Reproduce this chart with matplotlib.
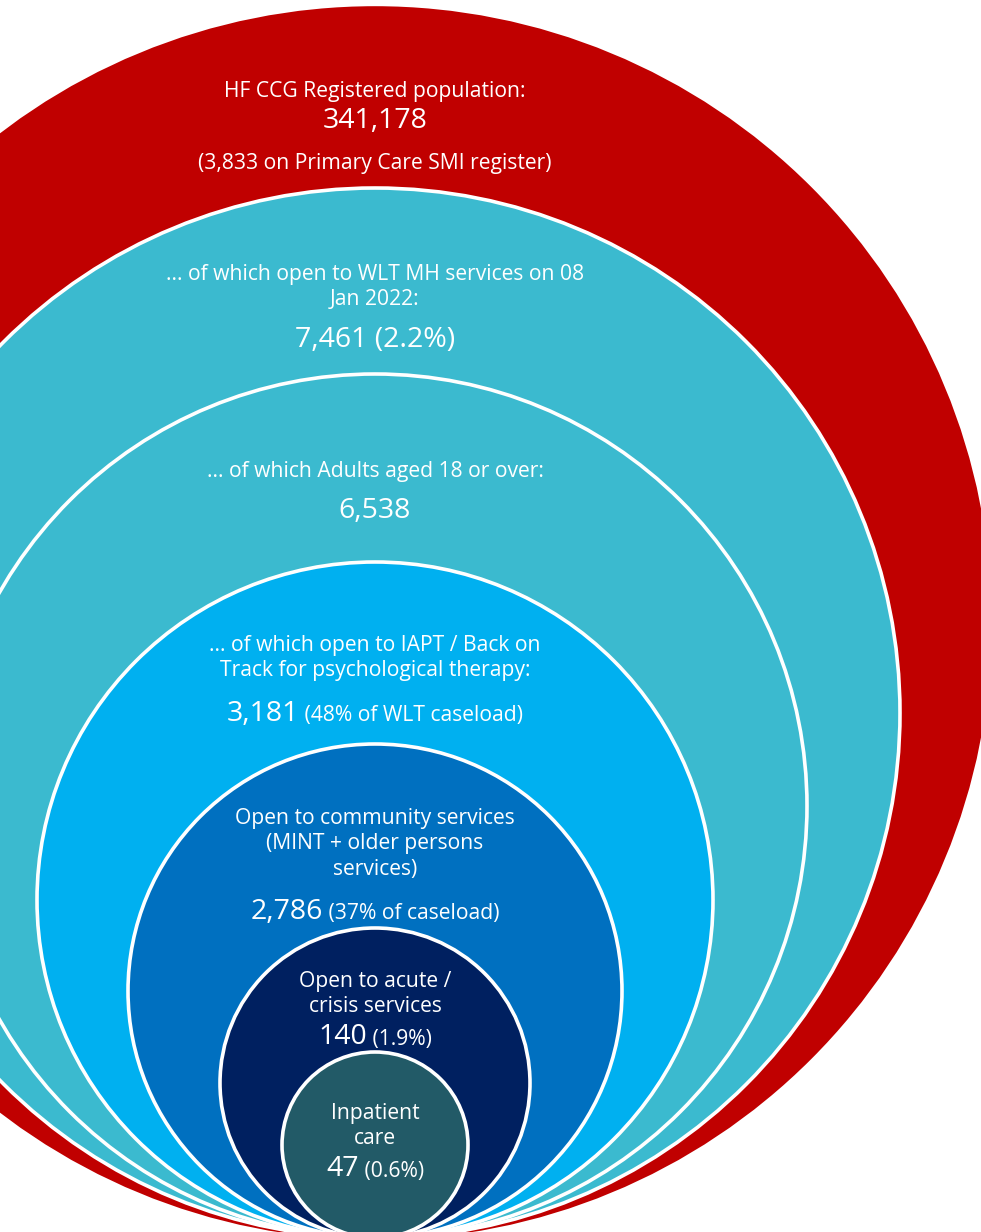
import matplotlib
matplotlib.use("Agg")
import matplotlib.pyplot as plt
from matplotlib.patches import Circle

plt.rcParams['font.family'] = ['Open Sans', 'DejaVu Sans']

# data, outer ring to inner
labels = [
    "HF CCG Registered population:",
    "... of which open to WLT MH services on 08\nJan 2022:",
    "... of which Adults aged 18 or over:",
    "... of which open to IAPT / Back on\nTrack for psychological therapy:",
    "Open to community services\n(MINT + older persons\nservices)",
    "Open to acute /\ncrisis services",
    "Inpatient\ncare",
]
counts = ["341,178", "7,461 (2.2%)", "6,538", "3,181", "2,786", "140", "47"]
notes = ["", "", "", "(48% of WLT caseload)", "(37% of caseload)", "(1.9%)", "(0.6%)"]
footer = "(3,833 on Primary Care SMI register)"
colors = ["#C00000", "#3BBACF", "#3BBACF", "#00B0F0", "#0070C0", "#002060", "#225A67"]

# layout (pixels): all circles touch at the bottom point
cx, base = 375, 1238
radii = [615, 525, 432, 338, 247, 155, 93]
label_y = [91, 287, 471, 658, 844, 994, 1126]
count_y = [121, 340, 511, 714, 912, 1037, 1169]

W, H = 981, 1232
fig = plt.figure(figsize=(W / 100, H / 100), dpi=100)
ax = fig.add_axes([0, 0, 1, 1])
ax.set_xlim(0, W)
ax.set_ylim(H, 0)
ax.axis('off')

for i, (r, c) in enumerate(zip(radii, colors)):
    ec = c if i == 0 else "white"
    ax.add_patch(Circle((cx, base - r), r, facecolor=c, edgecolor=ec, lw=2.6, zorder=i))

fig.canvas.draw()
renderer = fig.canvas.get_renderer()

small, big = 15.2, 20.5
for i in range(len(labels)):
    ax.text(cx, label_y[i], labels[i], color="white", fontsize=small,
            ha="center", va="center", linespacing=1.3, zorder=20)
    if notes[i]:
        t1 = ax.text(0, count_y[i], counts[i], color="white", fontsize=big,
                     ha="left", va="center", zorder=20)
        t2 = ax.text(0, count_y[i] + 2, " " + notes[i], color="white", fontsize=small,
                     ha="left", va="center", zorder=20)
        w1 = t1.get_window_extent(renderer).width
        w2 = t2.get_window_extent(renderer).width
        x0 = cx - (w1 + w2) / 2
        t1.set_x(x0)
        t2.set_x(x0 + w1)
    else:
        ax.text(cx, count_y[i], counts[i], color="white", fontsize=big,
                ha="center", va="center", zorder=20)

ax.text(cx, 164, footer, color="white", fontsize=small, ha="center", va="center", zorder=20)

fig.savefig("out.png", dpi=100)
